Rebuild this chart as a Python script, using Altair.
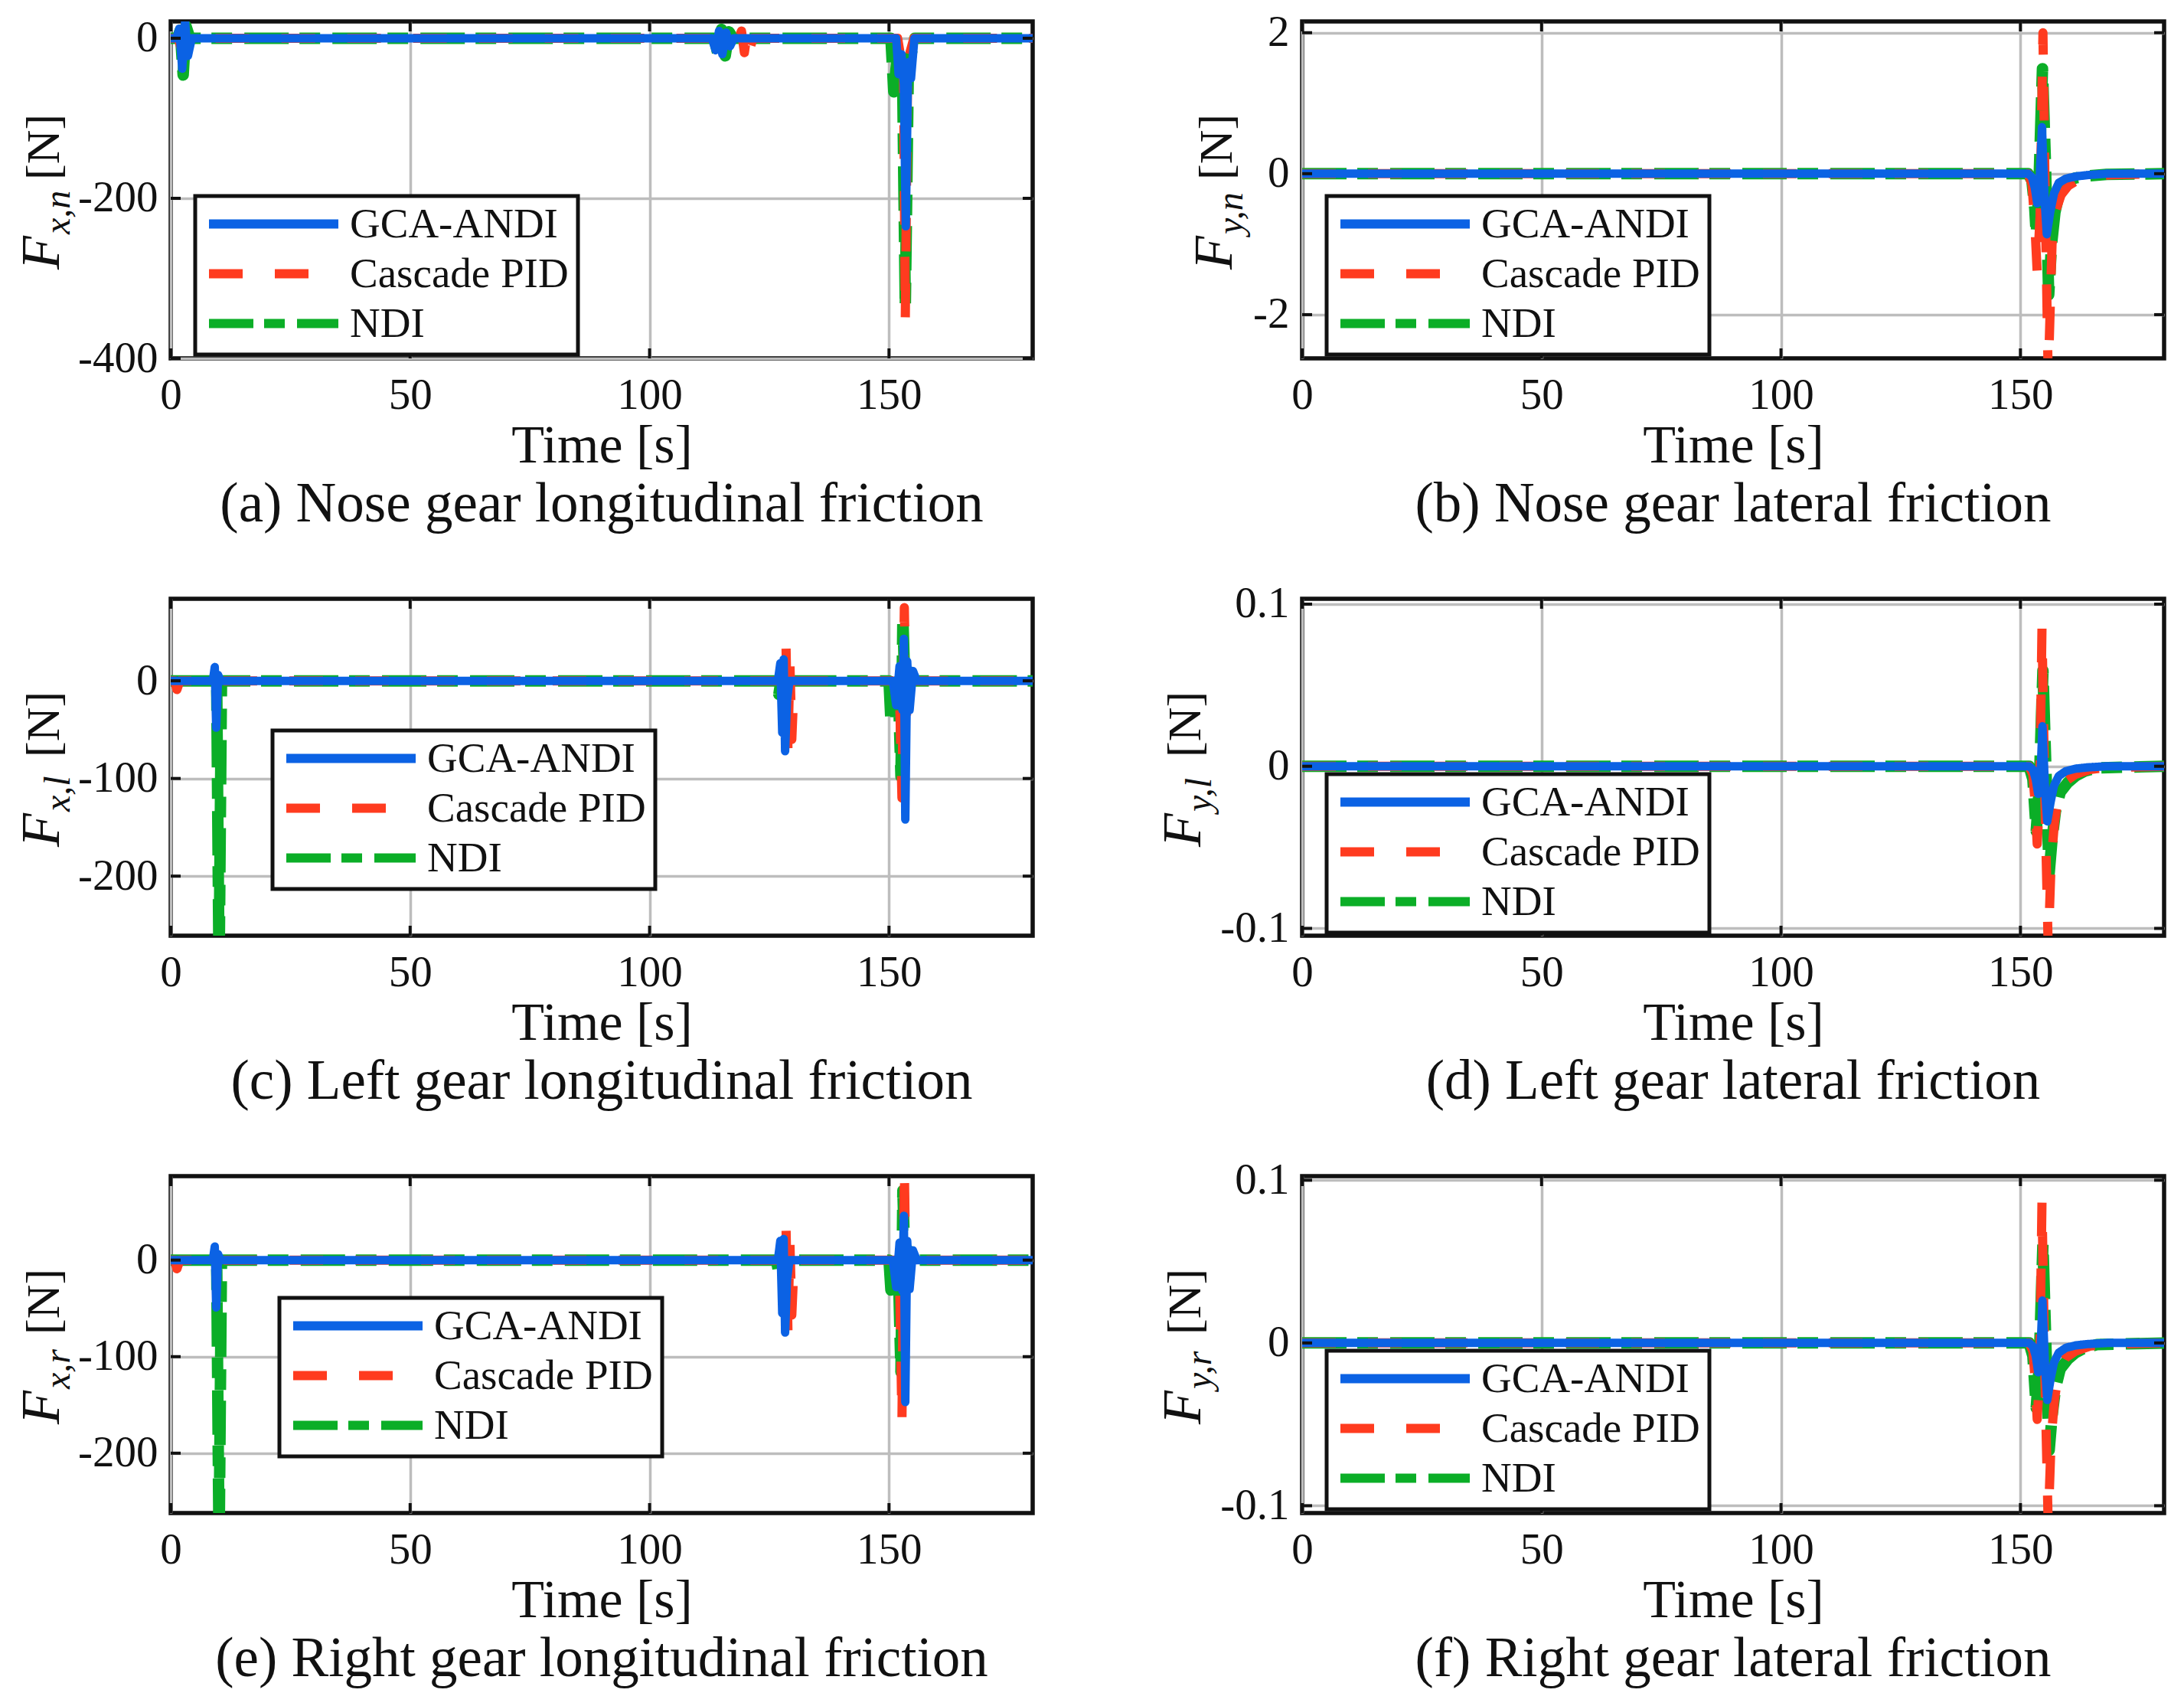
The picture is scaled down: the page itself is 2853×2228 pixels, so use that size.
import altair as alt
import pandas as pd

SERIES = ["GCA-ANDI", "Cascade PID", "NDI"]
COLORS = ["#0B62E4", "#FF3B1F", "#0BAE27"]
DASHES = [[1, 0], [44, 42], [58, 14, 27, 16]]
WIDTHS = {"GCA-ANDI": 11, "Cascade PID": 12, "NDI": 15}
X_TICKS = [0, 50, 100, 150]

# (a) nose gear longitudinal
A_T_GCA = [0, 1.2, 1.8, 2.4, 3.0, 3.6, 4.4, 113.0, 113.8, 114.5, 115.2, 116.0, 116.8, 117.6, 151.5, 152.0, 152.6, 153.1, 153.5, 154.0, 154.6, 155.3, 180]
A_V_GCA = [0, 0, 12, -38, 20, -22, 0, 0, -15, 9, -20, 7, -10, 0, 0, -45, -20, -57, -235, -30, -50, 0, 0]
A_T_PID = [0, 1.5, 2.2, 2.9, 3.5, 118.6, 119.2, 119.8, 120.4, 121.0, 121.6, 151.8, 152.5, 153.0, 153.4, 153.9, 154.5, 155.2, 180]
A_V_PID = [0, 0, -12, 6, 0, 0, 9, -18, 8, -12, 0, 0, -25, -10, -352, -30, -15, 0, 0]
A_T_NDI = [0, 1.4, 2.0, 2.6, 3.2, 4.0, 113.5, 114.2, 115.0, 115.8, 116.6, 117.4, 150.4, 151.0, 151.6, 152.2, 152.8, 153.4, 154.0, 154.6, 155.4, 180]
A_V_NDI = [0, 0, 10, -46, 15, 0, 0, -18, 11, -22, 8, 0, 0, -67, -30, -60, -25, -335, -52, -20, 0, 0]

# (b) nose gear lateral
B_T_GCA = [0, 151.6, 152.4, 153.0, 153.5, 154.0, 154.5, 155.0, 155.5, 156.2, 157.0, 158.0, 159.5, 161.5, 164.0, 168.0, 180]
B_V_GCA = [0, 0, -0.05, -0.2, -0.42, -0.1, 0.66, -0.3, -0.86, -0.55, -0.28, -0.13, -0.07, -0.04, -0.02, 0, 0]
B_T_PID = [0, 151.6, 152.4, 153.0, 153.5, 154.1, 154.7, 155.2, 155.8, 156.6, 157.5, 158.5, 160.0, 162.0, 165.0, 169.0, 180]
B_V_PID = [0, 0, -0.15, -0.7, -1.4, -0.6, 2.0, -0.5, -2.9, -1.0, -0.5, -0.3, -0.17, -0.09, -0.04, -0.015, 0]
B_T_NDI = [0, 151.6, 152.4, 153.0, 153.3, 153.8, 154.6, 155.2, 155.9, 156.5, 157.2, 158.2, 159.5, 161.5, 164.5, 168.0, 180]
B_V_NDI = [0, 0, -0.1, -0.5, -0.86, -0.3, 1.49, 0.2, -1.72, -1.0, -0.55, -0.25, -0.12, -0.06, -0.03, -0.01, 0]

# (c) left gear longitudinal
C_T_GCA = [0, 8.8, 9.2, 9.5, 9.9, 10.4, 126.8, 127.3, 127.7, 128.0, 128.3, 128.7, 129.2, 150.8, 151.5, 152.2, 152.8, 153.1, 153.4, 153.8, 154.3, 155.0, 155.8, 180]
C_V_GCA = [0, 0, 14, -48, 6, 0, 0, 18, -53, 22, -72, -20, 0, 0, -25, 15, -30, 43, -142, 20, -30, 10, 0, 0]
C_T_PID = [0, 0.8, 1.3, 1.9, 127.5, 128.1, 128.5, 128.9, 129.3, 129.7, 130.2, 151.5, 152.2, 152.7, 153.2, 153.6, 154.2, 155.0, 180]
C_V_PID = [0, 0, -9, 0, 0, 10, 34, -72, 20, -60, 0, 0, -15, -120, 75, -40, 15, 0, 0]
C_T_NDI = [0, 9.6, 10.1, 10.6, 126.5, 127.0, 127.6, 128.2, 150.0, 150.4, 151.4, 151.9, 152.5, 152.9, 153.4, 154.0, 154.8, 180]
C_V_NDI = [0, 0, -300, 0, 0, -14, 5, 0, 0, -41, -38, 0, -98, 64, -20, 10, 0, 0]

# (d) left gear lateral
D_T_GCA = [0, 151.8, 152.6, 153.2, 153.7, 154.2, 154.6, 155.1, 155.6, 156.3, 157.0, 158.0, 159.5, 161.5, 164.0, 168.0, 180]
D_V_GCA = [0, 0, -0.002, -0.008, -0.017, -0.005, 0.0247, -0.012, -0.034, -0.022, -0.012, -0.006, -0.003, -0.0015, -0.0007, 0, 0]
D_T_PID = [0, 151.8, 152.6, 153.0, 153.5, 154.0, 154.5, 155.1, 155.8, 156.4, 157.1, 158.0, 159.5, 161.5, 164.5, 168.0, 180]
D_V_PID = [0, 0, -0.005, -0.02, -0.048, -0.02, 0.0856, -0.02, -0.112, -0.06, -0.035, -0.017, -0.009, -0.005, -0.002, -0.0008, 0]
D_T_NDI = [0, 151.8, 152.6, 153.3, 153.9, 154.7, 155.3, 156.0, 156.6, 157.3, 158.3, 159.9, 161.5, 163.4, 166.0, 180]
D_V_NDI = [0, 0, -0.008, -0.04, -0.015, 0.059, 0.0, -0.066, -0.045, -0.028, -0.016, -0.01, -0.006, -0.003, -0.001, 0]

# (e) right gear longitudinal
E_T_GCA = [0, 8.8, 9.2, 9.5, 9.9, 10.4, 126.8, 127.3, 127.7, 128.0, 128.3, 128.7, 129.2, 150.8, 151.5, 152.2, 152.8, 153.1, 153.4, 153.8, 154.3, 155.0, 155.8, 180]
E_V_GCA = [0, 0, 14, -49, 6, 0, 0, 20, -55, 22, -75, -20, 0, 0, -28, 18, -32, 46, -147, 20, -30, 10, 0, 0]
E_T_PID = [0, 0.8, 1.3, 1.9, 127.5, 128.1, 128.5, 128.9, 129.3, 129.7, 130.2, 151.5, 152.2, 152.7, 153.2, 153.6, 154.2, 155.0, 180]
E_V_PID = [0, 0, -9, 0, 0, 10, 33, -75, 20, -57, 0, 0, -15, -168, 95, -40, 15, 0, 0]
E_T_NDI = [0, 9.6, 10.1, 10.6, 126.5, 127.0, 127.6, 128.2, 150.0, 150.4, 151.4, 151.9, 152.5, 152.9, 153.4, 154.0, 154.8, 180]
E_V_NDI = [0, 0, -300, 0, 0, -14, 5, 0, 0, -31, -30, 0, -116, 72, -20, 10, 0, 0]

# (f) right gear lateral
F_T_GCA = [0, 151.8, 152.6, 153.2, 153.7, 154.2, 154.6, 155.1, 155.6, 156.3, 157.0, 158.0, 159.5, 161.5, 164.0, 168.0, 180]
F_V_GCA = [0, 0, -0.002, -0.008, -0.018, -0.005, 0.026, -0.012, -0.035, -0.022, -0.012, -0.006, -0.003, -0.0015, -0.0007, 0, 0]
F_T_PID = [0, 151.8, 152.6, 153.0, 153.5, 154.0, 154.5, 155.1, 155.8, 156.4, 157.1, 158.0, 159.5, 161.5, 164.5, 168.0, 180]
F_V_PID = [0, 0, -0.005, -0.02, -0.047, -0.02, 0.087, -0.02, -0.112, -0.06, -0.035, -0.017, -0.009, -0.005, -0.002, -0.0008, 0]
F_T_NDI = [0, 151.8, 152.6, 153.3, 153.9, 154.7, 155.3, 156.0, 156.6, 157.3, 158.3, 159.9, 161.5, 163.4, 166.0, 180]
F_V_NDI = [0, 0, -0.008, -0.04, -0.015, 0.061, 0.0, -0.066, -0.045, -0.028, -0.016, -0.01, -0.006, -0.003, -0.001, 0]

W, H = 1126, 440
FONT = "Liberation Serif"
INK = "#111111"


def panel(tg, vg, tp, vp, tn, vn, ydom, yticks, sub, caption, lx, ly, xb):
    rows = []
    for s, ts, vs in ((SERIES[0], tg, vg), (SERIES[1], tp, vp), (SERIES[2], tn, vn)):
        rows += [{"t": t, "v": v, "series": s} for t, v in zip(ts, vs)]
    df = pd.DataFrame(rows)
    xs = alt.Scale(domain=[0, 180], nice=False, zero=False)
    ys = alt.Scale(domain=ydom, nice=False, zero=False)
    xaxis = alt.Axis(values=X_TICKS, title="Time [s]", grid=True, domain=False, ticks=False, tickSize=0,
                     labelFlush=False, labelOverlap=False, labelPadding=20, titlePadding=4,
                     labelFont=FONT, labelFontSize=57, labelColor=INK,
                     titleFont=FONT, titleFontSize=70, titleFontWeight="normal", titleColor=INK)
    yaxis = alt.Axis(values=yticks, title=None, grid=True, domain=False, ticks=False, tickSize=0,
                     labelFlush=False, labelOverlap=False, labelPadding=17, format="~r",
                     labelExpr="replace(datum.label, '\u2212', '-')",
                     labelFont=FONT, labelFontSize=57, labelColor=INK)
    legend = alt.Legend(orient="none", legendX=lx, legendY=ly, title=None,
                        symbolType="stroke", symbolSize=28561, symbolStrokeWidth=12,
                        labelFont=FONT, labelFontSize=55, clipHeight=49,
                        labelColor=INK, labelLimit=700, labelOffset=9, padding=12, rowPadding=9,
                        fillColor="white", strokeColor=INK, cornerRadius=0)
    enc = dict(
        x=alt.X("t:Q", scale=xs, axis=xaxis),
        y=alt.Y("v:Q", scale=ys, axis=yaxis),
        color=alt.Color("series:N", scale=alt.Scale(domain=SERIES, range=COLORS), legend=legend),
        strokeDash=alt.StrokeDash("series:N", scale=alt.Scale(domain=SERIES, range=DASHES), legend=legend),
    )
    base = alt.Chart(df)
    layers = []
    for s in ["NDI", "Cascade PID", "GCA-ANDI"]:
        cap = "round" if s == "GCA-ANDI" else "butt"
        layers.append(base.transform_filter(alt.datum.series == s)
                      .mark_line(clip=True, strokeCap=cap, strokeJoin="round", strokeWidth=WIDTHS[s])
                      .encode(**enc))
    ydf = pd.DataFrame({"v": yticks})
    xdf = pd.DataFrame({"t": X_TICKS})
    L = 13
    tk = dict(color=INK, strokeWidth=4)
    yl = alt.Chart(ydf).mark_rule(**tk).encode(y=alt.Y("v:Q", scale=ys, axis=yaxis), x=alt.value(0), x2=alt.value(L))
    yr = alt.Chart(ydf).mark_rule(**tk).encode(y=alt.Y("v:Q", scale=ys, axis=yaxis), x=alt.value(W - L), x2=alt.value(W))
    xbt = alt.Chart(xdf).mark_rule(**tk).encode(x=alt.X("t:Q", scale=xs, axis=xaxis), y=alt.value(H - L), y2=alt.value(H))
    xtp = alt.Chart(xdf).mark_rule(**tk).encode(x=alt.X("t:Q", scale=xs, axis=xaxis), y=alt.value(0), y2=alt.value(L))
    one = pd.DataFrame({"k": [0]})
    cy = H / 2
    tF = alt.Chart(one).mark_text(text="F", angle=270, align="left", baseline="alphabetic", font=FONT,
                                  fontSize=72, fontStyle="italic", color=INK).encode(x=alt.value(xb), y=alt.value(cy + 104))
    tS = alt.Chart(one).mark_text(text=sub, angle=270, align="left", baseline="alphabetic", font=FONT,
                                  fontSize=48, fontStyle="italic", color=INK).encode(x=alt.value(xb + 14), y=alt.value(cy + 58))
    tN = alt.Chart(one).mark_text(text="[N]", angle=270, align="left", baseline="alphabetic", font=FONT,
                                  fontSize=62, color=INK).encode(x=alt.value(xb), y=alt.value(cy - 13))
    return alt.layer(*layers, yl, yr, xbt, xtp, tF, tS, tN).properties(
        width=W, height=H,
        title=alt.TitleParams(caption, orient="bottom", anchor="middle", frame="group", font=FONT,
                              fontSize=73, fontWeight="normal", color=INK, offset=6))


pa = panel(A_T_GCA, A_V_GCA, A_T_PID, A_V_PID, A_T_NDI, A_V_NDI, [-400, 21], [-400, -200, 0], "x,n",
           "(a) Nose gear longitudinal friction", 32, 228, -146)
pb = panel(B_T_GCA, B_V_GCA, B_T_PID, B_V_PID, B_T_NDI, B_V_NDI, [-2.62, 2.16], [-2, 0, 2], "y,n",
           "(b) Nose gear lateral friction", 32, 228, -92)
pc = panel(C_T_GCA, C_V_GCA, C_T_PID, C_V_PID, C_T_NDI, C_V_NDI, [-261, 84], [-200, -100, 0], "x,l",
           "(c) Left gear longitudinal friction", 133, 172, -146)
pd_ = panel(D_T_GCA, D_V_GCA, D_T_PID, D_V_PID, D_T_NDI, D_V_NDI, [-0.1045, 0.1033], [-0.1, 0, 0.1], "y,l",
            "(d) Left gear lateral friction", 32, 229, -133)
pe = panel(E_T_GCA, E_V_GCA, E_T_PID, E_V_PID, E_T_NDI, E_V_NDI, [-262, 87], [-200, -100, 0], "x,r",
           "(e) Right gear longitudinal friction", 142, 159, -146)
pf = panel(F_T_GCA, F_V_GCA, F_T_PID, F_V_PID, F_T_NDI, F_V_NDI, [-0.1045, 0.1025], [-0.1, 0, 0.1], "y,r",
           "(f) Right gear lateral friction", 32, 228, -133)

IND = dict(x="independent", y="independent", color="independent", strokeDash="independent")

chart = alt.concat(pa, pb, pc, pd_, pe, pf, columns=2, spacing={"row": 314, "column": 352},
                   bounds="flush").resolve_scale(**IND)
chart = chart.properties(
    padding={"left": 8, "top": 2, "right": 10, "bottom": 10},
    background="white",
).configure_view(stroke=INK, strokeWidth=5.5).configure_axis(
    gridColor="#bdbdbd", gridWidth=3.5, gridOpacity=1
).configure_legend(strokeWidth=5)

chart.save("out.html", embed_options={"renderer": "svg", "actions": False})
